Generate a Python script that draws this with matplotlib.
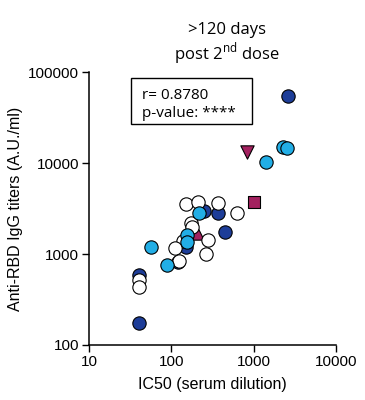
import numpy as np
import matplotlib
matplotlib.use("Agg")
import matplotlib.pyplot as plt
from matplotlib.ticker import FixedLocator, NullLocator
from matplotlib.patches import Rectangle

plt.rcParams['font.family'] = ['Liberation Sans', 'DejaVu Sans']
plt.rcParams['mathtext.fontset'] = 'custom'
plt.rcParams['mathtext.rm'] = 'Open Sans'

# data (IC50, anti-RBD IgG titer)
dark_x = [2570, 250, 363, 450, 151, 40, 40, 120]
dark_y = [55000, 2970, 2820, 1740, 1190, 590, 175, 820]

light_x = [2290, 2560, 1410, 217, 155, 155, 89, 57]
light_y = [15200, 14600, 10300, 2820, 1620, 1350, 760, 1200]

white_x = [630, 151, 210, 363, 172, 176, 138, 280, 110, 265, 123, 40, 40]
white_y = [2820, 3540, 3700, 3630, 2180, 1980, 1380, 1420, 1170, 1000, 835, 520, 435]

tri_down = (830, 13200)
tri_up = (205, 1700)
square = (1010, 3730)

dark = '#1d3d98'
light = '#22aee6'
magenta = '#a3215f'

fig = plt.figure(figsize=(3.65, 4.0), dpi=100)
ax = fig.add_axes([0.244, 0.1375, 0.677, 0.682])

ms = 92
ax.scatter(dark_x, dark_y, s=ms, c=dark, edgecolors='black', linewidths=0.8, zorder=3)
ax.scatter(white_x, white_y, s=ms, c='white', edgecolors='black', linewidths=0.8, zorder=4)
ax.scatter(light_x, light_y, s=ms, c=light, edgecolors='black', linewidths=0.8, zorder=4)
ax.scatter([tri_down[0]], [tri_down[1]], s=ms, marker='v', c=magenta, edgecolors='black', linewidths=0.8, zorder=5)
ax.scatter([tri_up[0]], [tri_up[1]], s=ms, marker='^', c=magenta, edgecolors='black', linewidths=0.8, zorder=3)
ax.scatter([square[0]], [square[1]], s=ms * 0.9, marker='s', c=magenta, edgecolors='black', linewidths=0.8, zorder=5)

ax.set_xscale('log')
ax.set_yscale('log')
ax.set_xlim(10, 10000)
ax.set_ylim(100, 100000)
ax.xaxis.set_major_locator(FixedLocator([10, 100, 1000, 10000]))
ax.yaxis.set_major_locator(FixedLocator([100, 1000, 10000, 100000]))
ax.xaxis.set_minor_locator(NullLocator())
ax.yaxis.set_minor_locator(NullLocator())
ax.set_xticklabels(['10', '100', '1000', '10000'])
ax.set_yticklabels(['100', '1000', '10000', '100000'])
ax.tick_params(direction='out', length=5, width=1, labelsize=11, pad=2)

for s in ['top', 'right']:
    ax.spines[s].set_visible(False)
for s in ['left', 'bottom']:
    ax.spines[s].set_linewidth(1.1)
ax.patch.set_visible(False)

ax.set_xlabel('IC50 (serum dilution)', fontsize=11.5, labelpad=6)
ax.set_ylabel('Anti-RBD IgG titers (A.U./ml)', fontsize=11.5, labelpad=4)

fig.text(0.622, 0.925, '>120 days', ha='center', va='center', fontsize=12, family='Open Sans')
fig.text(0.622, 0.865, r'post 2$^{\mathrm{nd}}$ dose', ha='center', va='center', fontsize=12, family='Open Sans')

ax.add_patch(Rectangle((0.17, 0.81), 0.49, 0.169, transform=ax.transAxes,
                       fc='white', ec='black', lw=1, zorder=6))
ax.text(0.215, 0.914, 'r= 0.8780', transform=ax.transAxes, ha='left', va='center',
        fontsize=11, family='Open Sans', zorder=7)
ax.text(0.215, 0.849, 'p-value: ****', transform=ax.transAxes, ha='left', va='center',
        fontsize=11, family='Open Sans', zorder=7)

fig.savefig('out.png', dpi=100)
